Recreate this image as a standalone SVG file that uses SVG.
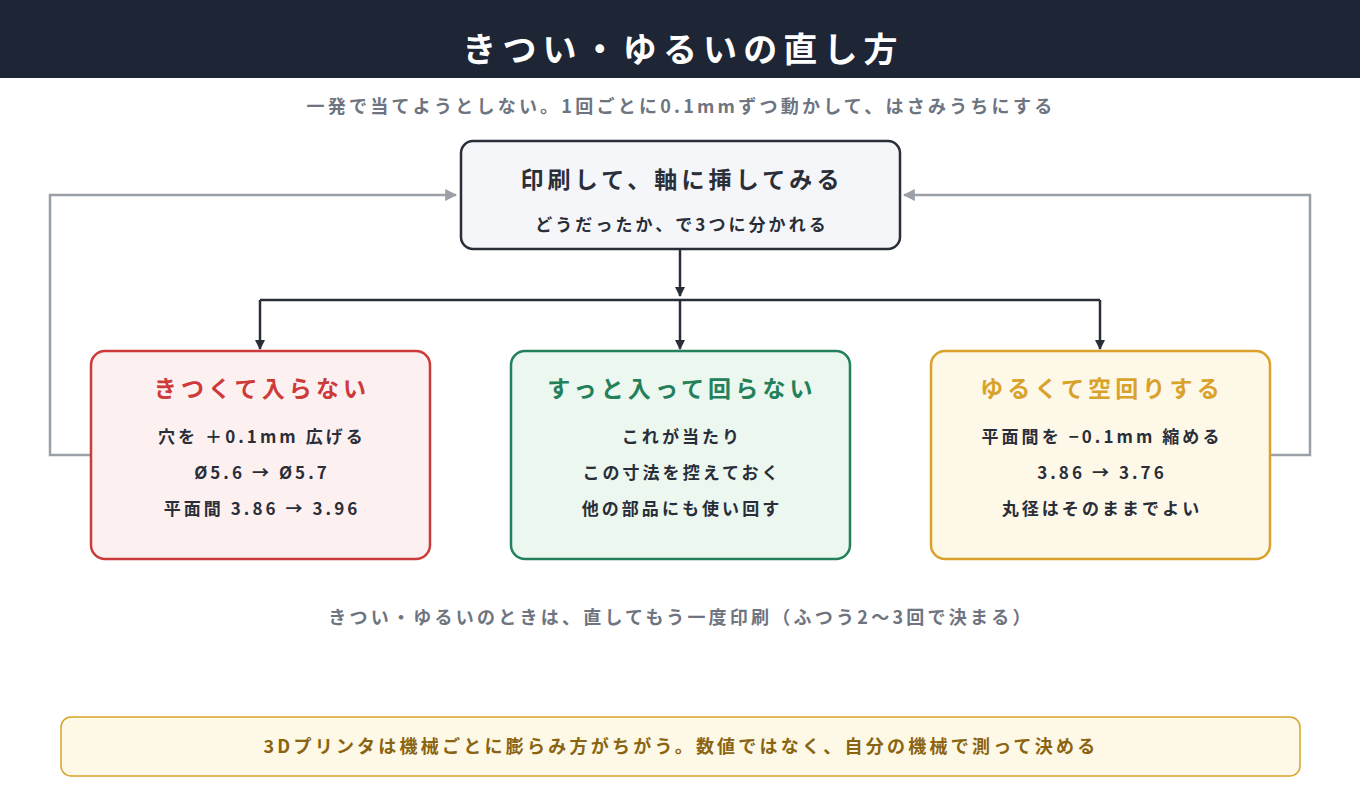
<svg xmlns="http://www.w3.org/2000/svg" width="1360" height="800" viewBox="0 0 1360 800">
<defs>
<marker id="ad" viewBox="0 0 10 10" refX="9" refY="5" markerWidth="10" markerHeight="10" markerUnits="userSpaceOnUse" orient="auto"><path d="M0,0L10,5L0,10z" fill="#2a2e38"/></marker>
<marker id="ag" viewBox="0 0 10 10" refX="9" refY="5" markerWidth="12" markerHeight="12" markerUnits="userSpaceOnUse" orient="auto"><path d="M0,0L10,5L0,10z" fill="#9aa0a8"/></marker>
</defs>
<style>
text{font-family:"Noto Sans CJK JP","Noto Sans",sans-serif;font-weight:700;text-anchor:middle;letter-spacing:0.18em}
.b{fill:#2a2e38;font-size:17px}
.t{font-size:23px}
</style>
<rect width="1360" height="800" fill="#fff"/>
<rect width="1360" height="78" fill="#1e2535"/>
<text x="683" y="62" fill="#fff" font-size="34">きつい・ゆるいの直し方</text>
<text x="681" y="113" fill="#6e7480" font-size="18">一発で当てようとしない。1回ごとに0.1mmずつ動かして、はさみうちにする</text>
<g id="connectors" fill="none">
<path d="M680,250V296" stroke="#2a2e38" stroke-width="2.5" marker-end="url(#ad)"/>
<path d="M260,300H1100" stroke="#2a2e38" stroke-width="2.5"/>
<path d="M260,300V349" stroke="#2a2e38" stroke-width="2.5" marker-end="url(#ad)"/>
<path d="M680,300V349" stroke="#2a2e38" stroke-width="2.5" marker-end="url(#ad)"/>
<path d="M1100,300V349" stroke="#2a2e38" stroke-width="2.5" marker-end="url(#ad)"/>
<path d="M90,455H50V195H456" stroke="#9aa0a8" stroke-width="2.5" marker-end="url(#ag)"/>
<path d="M1270,455H1310V195H904" stroke="#9aa0a8" stroke-width="2.5" marker-end="url(#ag)"/>
</g>
<g id="top">
<rect x="461" y="141" width="439" height="108" rx="12" fill="#f5f6fa" stroke="#2a2e38" stroke-width="2.5"/>
<text x="682" y="188" fill="#2a2e38" font-size="23">印刷して、軸に挿してみる</text>
<text x="682" y="231" class="b">どうだったか、で3つに分かれる</text>
</g>
<g id="tight">
<rect x="91" y="351" width="339" height="208" rx="14" fill="#fdf0f0" stroke="#cc3a3a" stroke-width="2.5"/>
<text x="262" y="397" class="t" fill="#cc3a3a">きつくて入らない</text>
<text x="262" y="443" class="b">穴を ＋0.1mm 広げる</text>
<text x="262" y="479" class="b">Ø5.6 → Ø5.7</text>
<text x="262" y="515" class="b">平面間 3.86 → 3.96</text>
</g>
<g id="good">
<rect x="511" y="351" width="339" height="208" rx="14" fill="#ebf7ef" stroke="#23805a" stroke-width="2.5"/>
<text x="682" y="397" class="t" fill="#23805a">すっと入って回らない</text>
<text x="682" y="443" class="b">これが当たり</text>
<text x="682" y="479" class="b">この寸法を控えておく</text>
<text x="682" y="515" class="b">他の部品にも使い回す</text>
</g>
<g id="loose">
<rect x="931" y="351" width="339" height="208" rx="14" fill="#fef8e8" stroke="#d9a22a" stroke-width="2.5"/>
<text x="1102" y="397" class="t" fill="#d9a22a">ゆるくて空回りする</text>
<text x="1102" y="443" class="b">平面間を −0.1mm 縮める</text>
<text x="1102" y="479" class="b">3.86 → 3.76</text>
<text x="1102" y="515" class="b">丸径はそのままでよい</text>
</g>
<text x="681" y="624" fill="#6e7480" font-size="18">きつい・ゆるいのときは、直してもう一度印刷（ふつう2〜3回で決まる）</text>
<g id="note">
<rect x="61" y="717" width="1239" height="59" rx="10" fill="#fef8e6" stroke="#d9a22a" stroke-width="1.5"/>
<text x="681" y="753" fill="#8a6410" font-size="18">3Dプリンタは機械ごとに膨らみ方がちがう。数値ではなく、自分の機械で測って決める</text>
</g>
</svg>
